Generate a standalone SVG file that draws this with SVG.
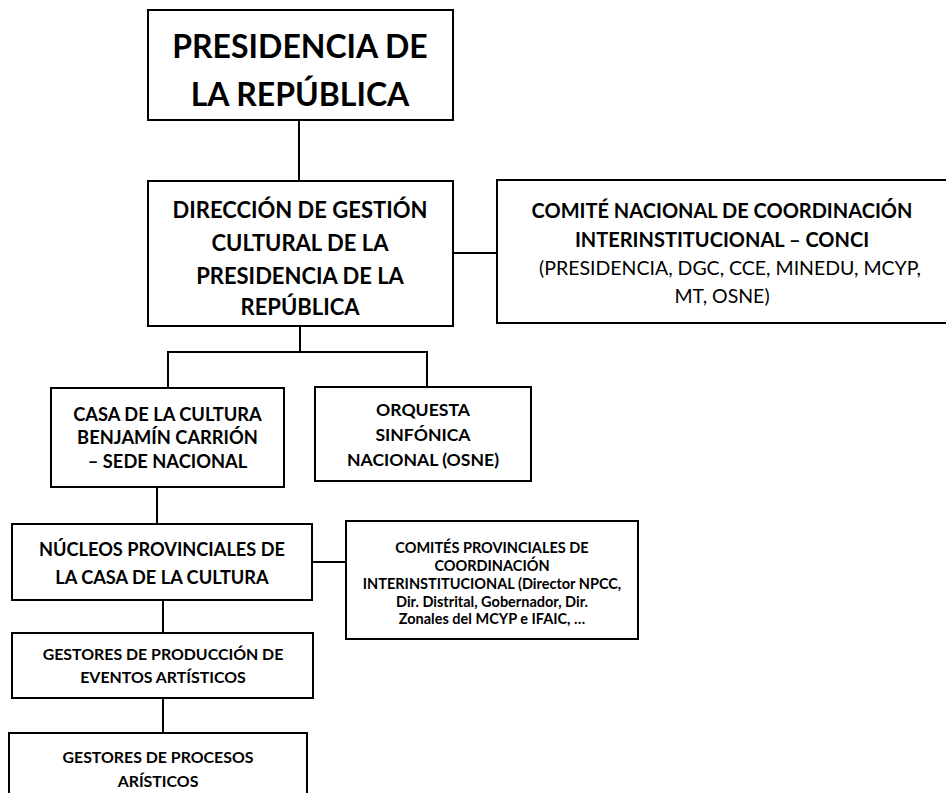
<svg xmlns="http://www.w3.org/2000/svg" width="946" height="793" viewBox="0 0 946 793">
<style>
rect{fill:#fff;stroke:#000;stroke-width:2}
text{font-family:Lato,"Open Sans","Liberation Sans",sans-serif;font-weight:bold;text-anchor:middle;fill:#000}
.reg{font-weight:normal}
#connectors line{stroke:#000;stroke-width:2}
</style>
<rect x="0" y="0" width="946" height="793" style="stroke:none"/>
<g id="connectors">
<line x1="299" y1="120" x2="299" y2="181"/>
<line x1="453" y1="253" x2="497" y2="253"/>
<line x1="300" y1="326" x2="300" y2="352"/>
<line x1="167" y1="352" x2="428" y2="352"/>
<line x1="168" y1="352" x2="168" y2="388"/>
<line x1="427" y1="352" x2="427" y2="387"/>
<line x1="157" y1="487" x2="157" y2="524"/>
<line x1="312" y1="562" x2="345" y2="562"/>
<line x1="163" y1="600" x2="163" y2="633"/>
<line x1="163" y1="698" x2="163" y2="733"/>
</g>
<g id="presidencia">
<rect x="148" y="10" width="305" height="110"/>
<text x="300" y="58" style="font-size:32px">PRESIDENCIA DE</text>
<text x="300" y="106" style="font-size:32px">LA REPÚBLICA</text>
</g>
<g id="direccion">
<rect x="148" y="181" width="305" height="145"/>
<text x="300" y="218" style="font-size:22px">DIRECCIÓN DE GESTIÓN</text>
<text x="300" y="251" style="font-size:22px">CULTURAL DE LA</text>
<text x="300" y="284" style="font-size:22px">PRESIDENCIA DE LA</text>
<text x="300" y="315" style="font-size:22px">REPÚBLICA</text>
</g>
<g id="conci">
<rect x="497" y="180" width="460" height="143"/>
<text x="722" y="218" style="font-size:20px">COMITÉ NACIONAL DE COORDINACIÓN</text>
<text x="722" y="247" style="font-size:20px">INTERINSTITUCIONAL – CONCI</text>
<text x="730" y="275" class="reg" style="font-size:19.5px">(PRESIDENCIA, DGC, CCE, MINEDU, MCYP,</text>
<text x="722" y="303" class="reg" style="font-size:19.5px">MT, OSNE)</text>
</g>
<g id="casa">
<rect x="51" y="388" width="233" height="99"/>
<text x="167.5" y="421" style="font-size:18.3px">CASA DE LA CULTURA</text>
<text x="167.5" y="444" style="font-size:18.3px">BENJAMÍN CARRIÓN</text>
<text x="167.5" y="468" style="font-size:18.3px">– SEDE NACIONAL</text>
</g>
<g id="orquesta">
<rect x="315" y="387" width="216" height="94"/>
<text x="423" y="416" style="font-size:17.6px">ORQUESTA</text>
<text x="423" y="441" style="font-size:17.6px">SINFÓNICA</text>
<text x="423" y="466" style="font-size:17.6px">NACIONAL (OSNE)</text>
</g>
<g id="nucleos">
<rect x="12" y="524" width="300" height="76"/>
<text x="162" y="556" style="font-size:18.2px">NÚCLEOS PROVINCIALES DE</text>
<text x="162" y="584" style="font-size:18.2px">LA CASA DE LA CULTURA</text>
</g>
<g id="comites">
<rect x="346" y="521" width="292" height="118"/>
<text x="492" y="553" style="font-size:14.5px">COMITÉS PROVINCIALES DE</text>
<text x="492" y="571" style="font-size:14.5px">COORDINACIÓN</text>
<text x="492" y="589" style="font-size:14.5px">INTERINSTITUCIONAL (Director NPCC,</text>
<text x="492" y="607" style="font-size:14.5px">Dir. Distrital, Gobernador, Dir.</text>
<text x="492" y="624" style="font-size:14.5px">Zonales del MCYP e IFAIC, …</text>
</g>
<g id="gestores-produccion">
<rect x="12" y="633" width="301" height="65"/>
<text x="163" y="660" style="font-size:15.9px">GESTORES DE PRODUCCIÓN DE</text>
<text x="163" y="683" style="font-size:15.9px">EVENTOS ARTÍSTICOS</text>
</g>
<g id="gestores-procesos">
<rect x="9" y="733" width="298" height="80"/>
<text x="158" y="763" style="font-size:15.9px">GESTORES DE PROCESOS</text>
<text x="158" y="787" style="font-size:15.9px">ARÍSTICOS</text>
</g>
</svg>
